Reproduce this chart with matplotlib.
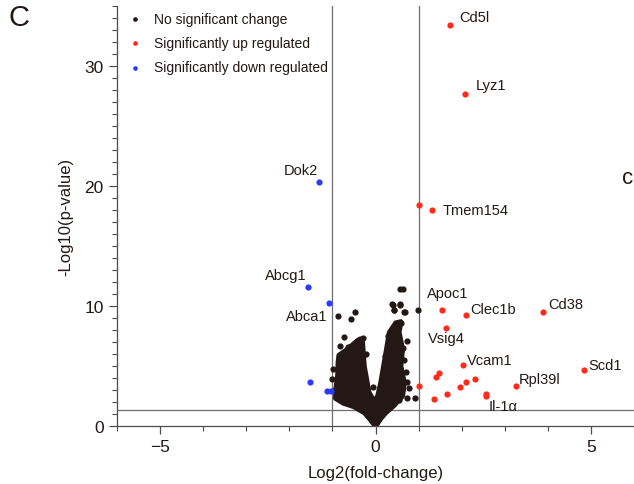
import matplotlib
matplotlib.use("Agg")
import matplotlib.pyplot as plt
from matplotlib.ticker import MultipleLocator
from matplotlib.patches import Polygon

plt.rcParams['font.family'] = ['Liberation Sans', 'DejaVu Sans']

# ---- data ----
up_x = [1.74, 2.07, 1.02, 1.30, 1.54, 2.11, 3.88, 1.64, 2.04, 4.83, 1.47, 1.41,
        2.30, 2.11, 1.95, 3.25, 1.02, 1.65, 1.36, 2.56, 2.56]
up_y = [33.4, 27.7, 18.4, 18.0, 9.67, 9.28, 9.47, 8.2, 5.08, 4.64, 4.44, 4.08,
        3.89, 3.67, 3.22, 3.36, 3.33, 2.69, 2.22, 2.67, 2.53]

down_x = [-1.30, -1.56, -1.07, -1.51, -1.12, -1.03]
down_y = [20.3, 11.6, 10.25, 3.7, 2.9, 2.9]

ns_x = [-0.86, -0.48, -0.56, 0.40, 0.57, 0.43, 0.68, 0.99, 0.58, 0.64, 0.60, 0.53,
        -0.73, -0.36, -0.82, -0.64, -0.49, -0.45, -0.38, -0.61, -0.98, -1.00,
        -0.90, 0.73, 0.63, 0.74, 0.78, 0.73, 0.92, -0.05, 0.39, 0.58, 0.42, 0.67,
        -0.70, -0.78, -0.80, -0.55, -0.30, -0.42, -0.90, -0.95, -0.72, -0.22,
        0.22, 0.30, 0.50, 0.45, 0.66, 0.70, 0.62, 0.55, -0.60, -0.85, 0.35, 0.52]
ns_y = [9.14, 9.47, 8.92, 10.1, 10.1, 9.69, 9.47, 9.67, 11.4, 11.4, 8.6, 8.4,
        7.4, 7.25, 6.7, 6.6, 6.8, 6.4, 6.97, 6.55, 4.75, 3.9,
        2.72, 7.1, 6.47, 3.64, 3.14, 2.3, 2.3, 3.22, 10.2, 10.2, 9.7, 9.5,
        5.9, 5.6, 5.2, 6.2, 7.3, 7.1, 3.5, 3.0, 2.0, 6.0,
        5.8, 7.5, 8.0, 7.6, 5.5, 4.5, 3.0, 2.2, 5.4, 4.3, 6.8, 6.9]

# envelope of the dense non-significant cloud (V shape)
core_x = [0.0, -0.03, -0.15, -0.26, -0.50, -0.75, -0.93, -0.92, -0.88, -0.87, -0.85,
          -0.65, -0.46, -0.38, -0.30, -0.26, -0.19, -0.15, -0.07, 0.0,
          0.05, 0.12, 0.24, 0.32, 0.47, 0.59, 0.55, 0.63, 0.59, 0.67, 0.63,
          0.43, 0.24, 0.12, 0.03]
core_y = [-0.1, 0.1, 0.65, 1.1, 1.6, 1.9, 2.3, 3.1, 4.2, 5.3, 5.9,
          6.4, 7.0, 7.2, 7.0, 5.0, 3.6, 2.8, 2.3, 2.2,
          2.5, 3.6, 6.1, 7.8, 8.6, 8.7, 7.8, 6.4, 5.0, 3.6, 2.5,
          1.7, 1.1, 0.6, 0.1]

labels = ["Cd5l", "Lyz1", "Tmem154", "Dok2", "Abcg1", "Abca1", "Apoc1", "Clec1b",
          "Cd38", "Vsig4", "Vcam1", "Scd1", "Rpl39l", "Il-1α"]
label_x = [1.95, 2.33, 1.56, -1.33, -1.60, -1.12, 1.19, 2.19, 4.00, 1.21, 2.12, 4.95, 3.33, 2.63]
label_y = [34.1, 28.4, 18.0, 21.3, 12.6, 9.2, 11.1, 9.75, 10.2, 7.3, 5.5, 5.1, 3.9, 1.67]
label_ha = ["left", "left", "left", "right", "right", "right", "left", "left",
            "left", "left", "left", "left", "left", "left"]

fc_thr = 1.0
p_thr = 1.3

# ---- style ----
dark = "#231815"
red = "#ff2a1a"
blue = "#2b3bff"
line_c = "#6e6e6e"

fig = plt.figure(figsize=(6.34, 4.85), dpi=100)
ax = fig.add_axes([117/634, 58/485, 1 - 117/634, 420/485])

ax.set_xlim(-6, 6)
ax.set_ylim(0, 35)

ax.axvline(-fc_thr, color=line_c, lw=0.9, zorder=1)
ax.axvline(fc_thr, color=line_c, lw=0.9, zorder=1)
ax.axhline(p_thr, color=line_c, lw=0.9, zorder=1)

poly = Polygon(list(zip(core_x, core_y)), closed=True, facecolor=dark,
               edgecolor=dark, lw=3.5, joinstyle='round', zorder=2, clip_on=True)
ax.add_patch(poly)

ms = 20
ax.scatter(ns_x, ns_y, s=ms, color=dark, lw=0, zorder=3, label="No significant change")
ax.scatter(up_x, up_y, s=ms, color=red, lw=0, zorder=3, label="Significantly up regulated")
ax.scatter(down_x, down_y, s=ms, color=blue, lw=0, zorder=3, label="Significantly down regulated")

for t, x, y, ha in zip(labels, label_x, label_y, label_ha):
    ax.text(x, y, t, ha=ha, va="center", fontsize=10.5, color=dark)

leg = ax.legend(loc="upper left", bbox_to_anchor=(-0.005, 1.01), frameon=False,
                fontsize=10, handletextpad=0.55, labelspacing=0.75,
                markerscale=0.75, borderaxespad=0.3, handlelength=1.6)
for txt in leg.get_texts():
    txt.set_color(dark)

for s in ["top", "right"]:
    ax.spines[s].set_visible(False)
for s in ["left", "bottom"]:
    ax.spines[s].set_color("#4d4d4d")
    ax.spines[s].set_linewidth(0.9)

ax.xaxis.set_major_locator(MultipleLocator(5))
ax.xaxis.set_minor_locator(MultipleLocator(1))
ax.yaxis.set_major_locator(MultipleLocator(10))
ax.yaxis.set_minor_locator(MultipleLocator(1))
ax.tick_params(which="major", length=6, width=0.9, color="#4d4d4d",
               labelsize=12.5, labelcolor=dark, pad=3.5)
ax.tick_params(which="minor", length=3.5, width=0.8, color="#4d4d4d")

ax.set_xlabel("Log2(fold-change)", fontsize=12, color=dark, labelpad=8)
ax.set_ylabel("-Log10(p-value)", fontsize=12, color=dark, labelpad=8)

fig.text(8/634, 1 - 18/485, "C", fontsize=21, color=dark, va="center", ha="left")
fig.text(622/634, 1 - 179/485, "c", fontsize=16, color=dark, va="center", ha="left")

fig.savefig("out.png", dpi=100)
